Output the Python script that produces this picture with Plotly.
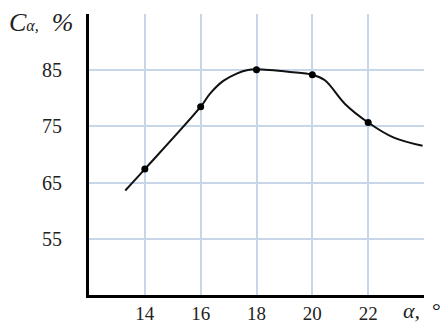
import plotly.graph_objects as go

# measured points (markers)
angle_pts = [14, 16, 18, 20, 22]
ca_pts = [67.4, 78.5, 85.1, 84.2, 75.7]

# smooth curve (including unmarked ends)
angle_curve = [13.3, 14, 16, 16.33, 16.81, 17.29, 17.65, 18, 19.2, 20,
               20.45, 21.17, 22, 22.9, 23.95]
ca_curve = [63.6, 67.4, 78.5, 80.8, 83.1, 84.4, 85.0, 85.15, 84.7, 84.2,
            83.2, 79.0, 75.7, 73.05, 71.55]

x_ticks = [14, 16, 18, 20, 22, 24]
x_ticktext = ["14", "16", "18", "20", "22", ""]
y_ticks = [55, 65, 75, 85, 95]
y_ticktext = ["55", "65", "75", "85", ""]

FONT = "Liberation Serif"
GRID = "#c8d6ea"
TXT = "#222222"

fig = go.Figure()
fig.add_trace(go.Scatter(
    x=angle_curve, y=ca_curve, mode="lines",
    line=dict(color="#111111", width=2, shape="spline", smoothing=1.0),
    hoverinfo="skip", showlegend=False))
fig.add_trace(go.Scatter(
    x=angle_pts, y=ca_pts, mode="markers",
    marker=dict(color="#000000", size=7),
    showlegend=False))

fig.update_layout(
    width=445, height=324,
    margin=dict(l=89, r=21, t=14, b=29),
    paper_bgcolor="white", plot_bgcolor="white",
    font=dict(family=FONT, size=20, color=TXT),
    xaxis=dict(range=[12, 24], tickvals=x_ticks, ticktext=x_ticktext,
               showgrid=True, gridcolor=GRID, gridwidth=1.5,
               showline=True, linecolor="#000000", linewidth=3,
               ticks="", ticklabelstandoff=-1, zeroline=False,
               tickfont=dict(size=19), automargin=False),
    yaxis=dict(range=[45, 95], tickvals=y_ticks, ticktext=y_ticktext,
               showgrid=True, gridcolor=GRID, gridwidth=1.5,
               showline=True, linecolor="#000000", linewidth=3,
               ticks="", ticklabelstandoff=20, zeroline=False,
               automargin=False),
)

PW, PH = 335.0, 281.0
fig.add_annotation(
    xref="paper", yref="paper", x=(7 - 89) / PW, y=1.0 - (22 - 14) / PH,
    xanchor="left", yanchor="middle", showarrow=False,
    text="<i>C<span style='font-size:16px'>α,</span>  %</i>",
    font=dict(family=FONT, size=26, color=TXT))
fig.add_annotation(
    xref="paper", yref="paper", x=(402 - 89) / PW, y=-(323.5 - 295) / PH,
    xanchor="left", yanchor="bottom", showarrow=False, borderpad=0,
    text="<i>α,</i>", font=dict(family=FONT, size=22, color=TXT))
fig.add_annotation(
    xref="paper", yref="paper", x=(431 - 89) / PW, y=-(323.5 - 295) / PH,
    xanchor="left", yanchor="bottom", showarrow=False, borderpad=0,
    text="°", font=dict(family=FONT, size=22, color=TXT))

fig.write_html("out.html")
